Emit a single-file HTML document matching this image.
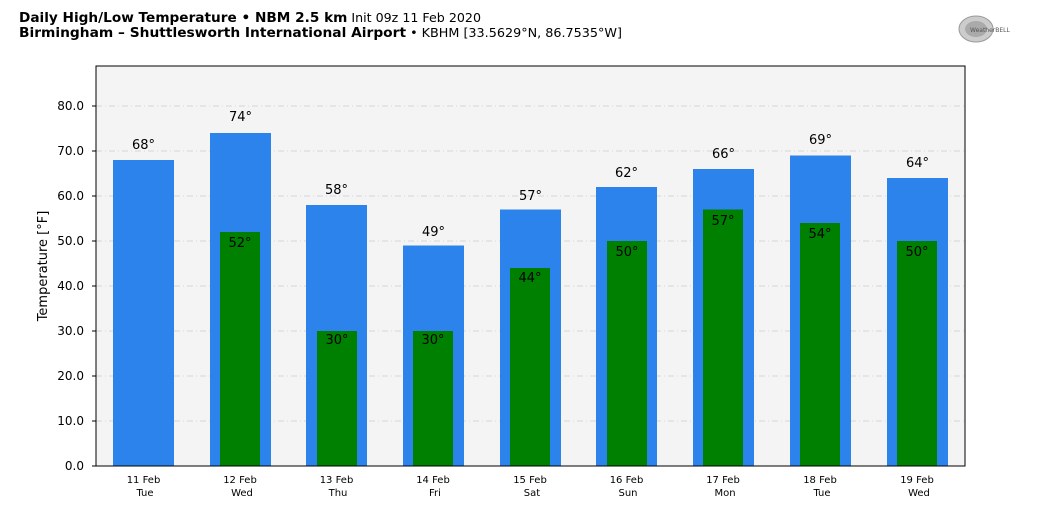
<!DOCTYPE html>
<html><head><style>
body{margin:0;width:1040px;height:516px;background:#fff;overflow:hidden;font-family:"DejaVu Sans","Liberation Sans",sans-serif;}
</style></head><body>
<svg width="1040" height="516" xmlns="http://www.w3.org/2000/svg" font-family="DejaVu Sans, Liberation Sans, sans-serif">
<text x="19" y="22" font-size="13.5" fill="#000" textLength="462" lengthAdjust="spacingAndGlyphs"><tspan font-weight="bold">Daily High/Low Temperature • NBM 2.5 km</tspan><tspan font-size="12.5"> Init 09z 11 Feb 2020</tspan></text>
<text x="19" y="37" font-size="13.5" fill="#000" textLength="603" lengthAdjust="spacingAndGlyphs"><tspan font-weight="bold">Birmingham – Shuttlesworth International Airport</tspan><tspan font-size="12.5"> • KBHM [33.5629°N, 86.7535°W]</tspan></text>
<ellipse cx="976" cy="29" rx="17" ry="13" fill="#ccc" stroke="#999"/>
<ellipse cx="976" cy="29" rx="11" ry="8" fill="#aaa"/>
<text x="970" y="32" font-size="6" fill="#555">WeatherBELL</text>
<rect x="96" y="66" width="869" height="400" fill="#f4f4f4"/>
<g stroke="#ccc" stroke-dasharray="6,3,1,3" stroke-width="0.8">
<line x1="96" x2="965" y1="421" y2="421"/><line x1="96" x2="965" y1="376" y2="376"/><line x1="96" x2="965" y1="331" y2="331"/><line x1="96" x2="965" y1="286" y2="286"/><line x1="96" x2="965" y1="241" y2="241"/><line x1="96" x2="965" y1="196" y2="196"/><line x1="96" x2="965" y1="151" y2="151"/><line x1="96" x2="965" y1="106" y2="106"/>
</g>
<g fill="#2b83eb">
<rect x="113" y="160" width="61" height="306"/><rect x="210" y="133" width="61" height="333"/><rect x="306" y="205" width="61" height="261"/><rect x="403" y="245.5" width="61" height="220.5"/><rect x="500" y="209.5" width="61" height="256.5"/><rect x="596" y="187" width="61" height="279"/><rect x="693" y="169" width="61" height="297"/><rect x="790" y="155.5" width="61" height="310.5"/><rect x="887" y="178" width="61" height="288"/>
</g>
<g fill="#008000">
<rect x="220" y="232" width="40" height="234"/><rect x="317" y="331" width="40" height="135"/><rect x="413" y="331" width="40" height="135"/><rect x="510" y="268" width="40" height="198"/><rect x="607" y="241" width="40" height="225"/><rect x="703" y="209.5" width="40" height="256.5"/><rect x="800" y="223" width="40" height="243"/><rect x="897" y="241" width="40" height="225"/>
</g>
<g font-size="13" text-anchor="middle" fill="#000">
<text x="143.5" y="149">68°</text><text x="240.5" y="121">74°</text><text x="336.5" y="194">58°</text><text x="433.5" y="236">49°</text><text x="530.5" y="200">57°</text><text x="626.5" y="177">62°</text><text x="723.5" y="158">66°</text><text x="820.5" y="144">69°</text><text x="917.5" y="167">64°</text>
<text x="240" y="247">52°</text><text x="337" y="344">30°</text><text x="433" y="344">30°</text><text x="530" y="282">44°</text><text x="627" y="256">50°</text><text x="723" y="225">57°</text><text x="820" y="238">54°</text><text x="917" y="256">50°</text>
</g>
<rect x="96" y="66" width="869" height="400" fill="none" stroke="#000" stroke-width="1"/>
<g font-size="12" text-anchor="end" fill="#000">
<text x="84" y="470">0.0</text><text x="84" y="425">10.0</text><text x="84" y="380">20.0</text><text x="84" y="335">30.0</text><text x="84" y="290">40.0</text><text x="84" y="245">50.0</text><text x="84" y="200">60.0</text><text x="84" y="155">70.0</text><text x="84" y="110">80.0</text>
</g>
<g stroke="#000"><line x1="92" x2="96" y1="466" y2="466"/><line x1="92" x2="96" y1="421" y2="421"/><line x1="92" x2="96" y1="376" y2="376"/><line x1="92" x2="96" y1="331" y2="331"/><line x1="92" x2="96" y1="286" y2="286"/><line x1="92" x2="96" y1="241" y2="241"/><line x1="92" x2="96" y1="196" y2="196"/><line x1="92" x2="96" y1="151" y2="151"/><line x1="92" x2="96" y1="106" y2="106"/></g>
<text x="47" y="266" font-size="13" text-anchor="middle" transform="rotate(-90 47 266)">Temperature [°F]</text>
<g font-size="10" text-anchor="middle" fill="#000">
<text x="143.5" y="483">11 Feb</text><text x="145" y="496">Tue</text>
<text x="240" y="483">12 Feb</text><text x="242" y="496">Wed</text>
<text x="336.5" y="483">13 Feb</text><text x="338" y="496">Thu</text>
<text x="433" y="483">14 Feb</text><text x="435" y="496">Fri</text>
<text x="530" y="483">15 Feb</text><text x="532" y="496">Sat</text>
<text x="626.5" y="483">16 Feb</text><text x="628" y="496">Sun</text>
<text x="723" y="483">17 Feb</text><text x="725" y="496">Mon</text>
<text x="820" y="483">18 Feb</text><text x="822" y="496">Tue</text>
<text x="917" y="483">19 Feb</text><text x="919" y="496">Wed</text>
</g>
</svg>
</body></html>
